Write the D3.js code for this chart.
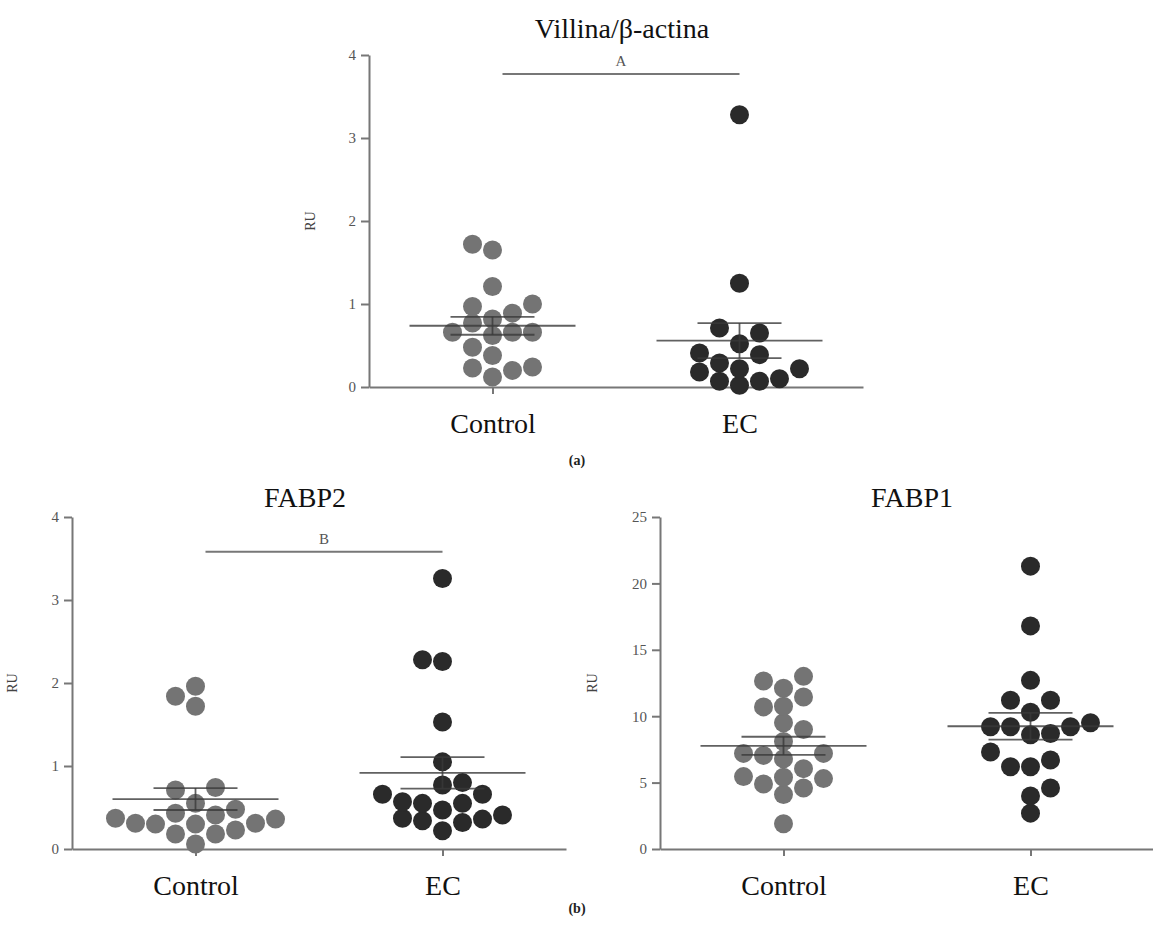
<!DOCTYPE html>
<html>
<head>
<meta charset="utf-8">
<script src="https://cdn.jsdelivr.net/npm/d3@7"></script>
<style>
  body { margin: 0; background: #fff; }
  text { font-family: "Liberation Serif", "Times New Roman", serif; }
</style>
</head>
<body>
<div id="chart"></div>
<script>
const groups = ["Control", "EC"];

// Villina/β-actina
const villinaControl = [1.72, 1.65, 1.21, 0.97, 1.0, 0.89, 0.77, 0.82, 0.66, 0.66, 0.62, 0.66, 0.48, 0.38, 0.23, 0.2, 0.24, 0.12];
const villinaEC = [3.28, 1.25, 0.71, 0.65, 0.52, 0.39, 0.41, 0.29, 0.22, 0.18, 0.22, 0.07, 0.02, 0.07, 0.1];

// FABP2
const fabp2Control = [1.84, 1.72, 1.96, 0.71, 0.74, 0.55, 0.48, 0.43, 0.37, 0.3, 0.3, 0.31, 0.31, 0.36, 0.41, 0.18, 0.18, 0.23, 0.06];
const fabp2EC = [3.26, 2.28, 2.26, 1.53, 1.05, 0.77, 0.8, 0.66, 0.66, 0.57, 0.55, 0.55, 0.47, 0.37, 0.34, 0.32, 0.36, 0.41, 0.22];

// FABP1
const fabp1Control = [13.0, 12.65, 12.1, 11.45, 10.7, 10.75, 9.0, 9.5, 8.1, 7.2, 7.05, 6.8, 7.2, 6.05, 5.45, 5.3, 5.4, 4.6, 4.9, 4.1, 1.9];
const fabp1EC = [21.3, 16.8, 12.7, 11.2, 11.2, 10.3, 9.5, 9.2, 9.2, 9.2, 8.7, 8.6, 7.3, 6.7, 6.2, 6.2, 4.6, 4.0, 2.7];

const ticksSmall = [0, 1, 2, 3, 4];
const ticksLarge = [0, 5, 10, 15, 20, 25];

const sigVillina = { label: "A", value: 3.77 };
const sigFabp2 = { label: "B", value: 3.58 };

const colors = { Control: "#747474", EC: "#2a2a2a" };

const svgWidth = 1153;
const svgHeight = 933;
const plotW = 494;
const plotH = 332;
const dotR = 9.5;
const slot = 20;

const svg = d3
  .select("#chart")
  .append("svg")
  .attr("width", svgWidth)
  .attr("height", svgHeight);

// greedy beeswarm: bottom points first, nearest free column to the centre
const beeswarm = (values, yScale) => {
  const placed = [];
  const pts = values
    .map((v, i) => ({ v, i, y: yScale(v) }))
    .sort((a, b) => a.v - b.v || a.i - b.i);
  pts.forEach((d) => {
    for (let k = 0; k < 12; k++) {
      const cands = k === 0 ? [0] : [k, -k];
      const free = cands.filter(
        (c) => !placed.some((p) => p.col === c && Math.abs(p.y - d.y) < 16)
      );
      if (free.length) {
        if (free.length === 2) {
          const left = placed.filter((p) => p.col < 0).length;
          const right = placed.filter((p) => p.col > 0).length;
          d.col = left < right ? -k : k;
        } else {
          d.col = free[0];
        }
        break;
      }
    }
    placed.push(d);
  });
  return placed;
};

const drawPanel = (p) => {
  const g = svg
    .append("g")
    .attr("transform", "translate(" + p.left + "," + p.top + ")");

  const x = d3.scalePoint().domain(groups).range([0, plotW]).padding(0.5);
  const y = d3.scaleLinear().domain([0, p.ticks[p.ticks.length - 1]]).range([plotH, 0]);

  // axes
  const yAxis = g
    .append("g")
    .attr("font-family", null)
    .call(
      d3.axisLeft(y)
        .tickValues(p.ticks)
        .tickFormat(d3.format("d"))
        .tickSize(8)
        .tickSizeOuter(0)
        .tickPadding(5)
    );
  yAxis.attr("font-family", null);
  yAxis.selectAll("text").attr("font-size", 15).attr("fill", "#555");

  const xAxis = g
    .append("g")
    .attr("transform", "translate(0," + plotH + ")")
    .call(d3.axisBottom(x).tickSize(7).tickSizeOuter(0).tickPadding(19));
  xAxis.attr("font-family", null);
  xAxis.selectAll("text").attr("font-size", 28).attr("fill", "#111");

  g.selectAll(".domain, .tick line").attr("stroke", "#777").attr("stroke-width", 2);

  // y label
  g.append("text")
    .attr("transform", "translate(" + -p.labelOffset + "," + plotH / 2 + ") rotate(-90)")
    .attr("text-anchor", "middle")
    .attr("font-size", 14)
    .attr("fill", "#444")
    .text("RU");

  // title
  g.append("text")
    .attr("x", p.titleX - p.left)
    .attr("y", p.titleY - p.top)
    .attr("text-anchor", "middle")
    .attr("font-size", 28)
    .attr("fill", "#111")
    .text(p.title);

  // significance bar
  if (p.sig) {
    const x1 = x("Control") + 10;
    const x2 = x("EC");
    g.append("line")
      .attr("x1", x1)
      .attr("x2", x2)
      .attr("y1", y(p.sig.value))
      .attr("y2", y(p.sig.value))
      .attr("stroke", "#777")
      .attr("stroke-width", 2);
    g.append("text")
      .attr("x", (x1 + x2) / 2)
      .attr("y", y(p.sig.value) - 8)
      .attr("text-anchor", "middle")
      .attr("font-size", 15)
      .attr("fill", "#555")
      .text(p.sig.label);
  }

  const series = [
    { name: "Control", values: p.control },
    { name: "EC", values: p.ec },
  ];

  series.forEach((s) => {
    const pts = beeswarm(s.values, y);
    g.selectAll("circle." + s.name)
      .data(pts)
      .enter()
      .append("circle")
      .attr("class", s.name)
      .attr("cx", (d) => x(s.name) + d.col * slot)
      .attr("cy", (d) => y(d.v))
      .attr("r", dotR)
      .attr("fill", colors[s.name]);
  });

  // mean and SEM lines on top of the dots
  series.forEach((s) => {
    const mean = d3.mean(s.values);
    const sem = d3.deviation(s.values) / Math.sqrt(s.values.length);
    const cx = x(s.name);
    const stats = [
      { x1: cx - 83, x2: cx + 83, y1: mean, y2: mean },
      { x1: cx - 42, x2: cx + 42, y1: mean + sem, y2: mean + sem },
      { x1: cx - 42, x2: cx + 42, y1: mean - sem, y2: mean - sem },
      { x1: cx, x2: cx, y1: mean - sem, y2: mean + sem },
    ];
    g.selectAll("line.stat-" + s.name)
      .data(stats)
      .enter()
      .append("line")
      .attr("class", "stat-" + s.name)
      .attr("x1", (d) => d.x1)
      .attr("x2", (d) => d.x2)
      .attr("y1", (d) => y(d.y1))
      .attr("y2", (d) => y(d.y2))
      .attr("stroke", "#3a3a3a")
      .attr("stroke-opacity", 0.8)
      .attr("stroke-width", 1.8);
  });
};

drawPanel({
  title: "Villina/β-actina",
  left: 369, top: 55, titleX: 622, titleY: 38, labelOffset: 54,
  ticks: ticksSmall, control: villinaControl, ec: villinaEC, sig: sigVillina,
});
drawPanel({
  title: "FABP2",
  left: 72, top: 517, titleX: 305, titleY: 507, labelOffset: 55,
  ticks: ticksSmall, control: fabp2Control, ec: fabp2EC, sig: sigFabp2,
});
drawPanel({
  title: "FABP1",
  left: 660, top: 517, titleX: 912, titleY: 507, labelOffset: 63,
  ticks: ticksLarge, control: fabp1Control, ec: fabp1EC, sig: null,
});

// panel letters
svg.selectAll("text.panel-letter")
  .data([{ t: "(a)", y: 465 }, { t: "(b)", y: 913 }])
  .enter()
  .append("text")
  .attr("class", "panel-letter")
  .attr("x", 577)
  .attr("y", (d) => d.y)
  .attr("text-anchor", "middle")
  .attr("font-size", 14)
  .attr("font-weight", "bold")
  .attr("fill", "#222")
  .text((d) => d.t);
</script>
</body>
</html>
